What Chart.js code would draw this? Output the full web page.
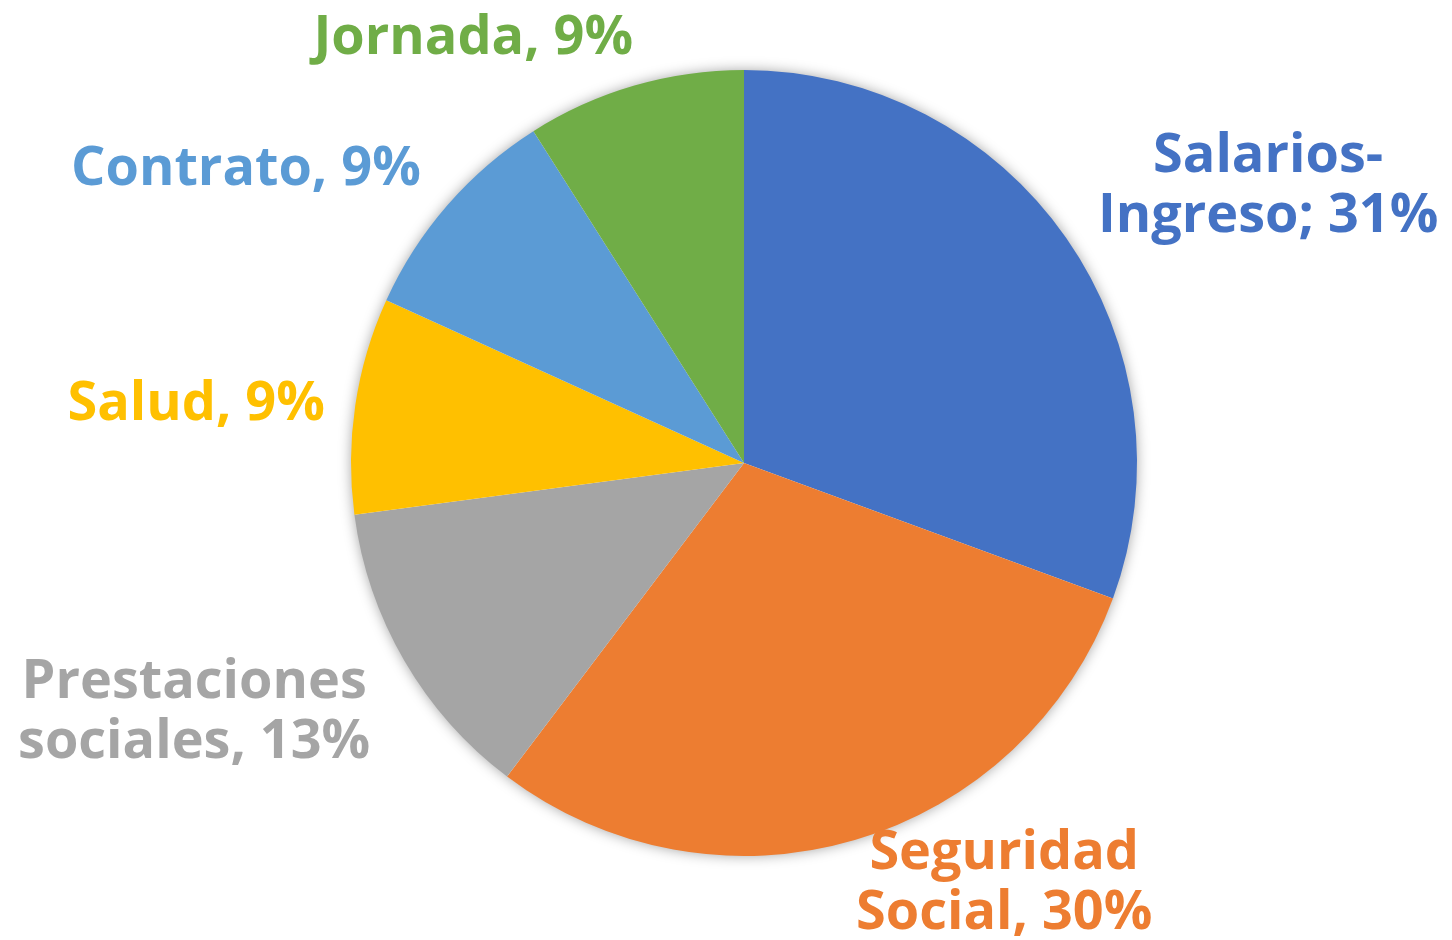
<!DOCTYPE html>
<html lang="es">
<head>
    <meta charset="UTF-8">
    <title>Distribución de temas</title>
    <script src="https://cdn.jsdelivr.net/npm/chart.js@4.4.1/dist/chart.umd.min.js"></script>
    <style>
        html, body { margin: 0; padding: 0; background: #fff; }
        #wrap { width: 1452px; height: 940px; }
    </style>
</head>
<body>
    <div id="wrap"><canvas id="pieChart"></canvas></div>

    <script>
        // Data (slice shares, percent)
        const categories = ['Salarios-Ingreso', 'Seguridad Social', 'Prestaciones sociales', 'Salud', 'Contrato', 'Jornada'];
        const values = [30.6, 29.7, 12.6, 8.9, 9.2, 9.0];
        const separators = ['; ', ', ', ', ', ', ', ', ', ', '];
        const colors = ['#4472C4', '#ED7D31', '#A5A5A5', '#FFC000', '#5B9BD5', '#70AD47'];

        const total = values.reduce((a, b) => a + b, 0);
        const fontSize = 54;
        const labelFont = 'bold ' + fontSize + 'px "Open Sans"';
        const capHeight = fontSize * 0.714;
        const lineGap = 60;

        // label position relative to the slice: distance in radii, turn from mid-angle in degrees
        const labelPlacement = [
            { dist: 1.512, turn: 6.8 },
            { dist: 1.250, turn: -15.6 },
            { dist: 1.532, turn: 6.2 },
            { dist: 1.403, turn: -2.0 },
            { dist: 1.476, turn: -10.2 },
            { dist: 1.289, turn: -16.1 }
        ];

        // greedy wrap at spaces and after hyphens
        function wrapText(ctx, text, maxWidth) {
            const parts = text.match(/[^ -]+-?| /g);
            const lines = [];
            let line = '';
            parts.forEach(p => {
                const test = line + p;
                if (line.trim() && p !== ' ' && ctx.measureText(test).width > maxWidth) {
                    lines.push(line.trim());
                    line = p;
                } else {
                    line = test;
                }
            });
            if (line.trim()) lines.push(line.trim());
            return lines;
        }

        const shadowPlugin = {
            id: 'pieShadow',
            beforeDatasetsDraw(chart) {
                const arc = chart.getDatasetMeta(0).data[0];
                if (!arc) return;
                const ctx = chart.ctx;
                ctx.save();
                ctx.shadowColor = 'rgba(0,0,0,0.4)';
                ctx.shadowBlur = 14;
                ctx.fillStyle = '#fff';
                ctx.beginPath();
                ctx.arc(arc.x, arc.y, arc.outerRadius - 1, 0, Math.PI * 2);
                ctx.fill();
                ctx.restore();
            }
        };

        const labelPlugin = {
            id: 'sliceLabels',
            afterDatasetsDraw(chart) {
                const ctx = chart.ctx;
                const meta = chart.getDatasetMeta(0);
                ctx.save();
                ctx.font = labelFont;
                ctx.textAlign = 'center';
                ctx.textBaseline = 'alphabetic';
                meta.data.forEach((arc, i) => {
                    const pct = Math.round(values[i] / total * 100) + '%';
                    const text = categories[i] + separators[i] + pct;
                    const lines = wrapText(ctx, text, 375);
                    const place = labelPlacement[i];
                    const mid = (arc.startAngle + arc.endAngle) / 2 + place.turn * Math.PI / 180;
                    const cx = arc.x + Math.cos(mid) * arc.outerRadius * place.dist;
                    const cy = arc.y + Math.sin(mid) * arc.outerRadius * place.dist;
                    ctx.fillStyle = colors[i];
                    lines.forEach((ln, j) => {
                        const lineCenter = cy + (j - (lines.length - 1) / 2) * lineGap;
                        ctx.fillText(ln, cx, lineCenter + capHeight / 2);
                    });
                });
                ctx.restore();
            }
        };

        const ctx = document.getElementById('pieChart').getContext('2d');
        new Chart(ctx, {
            type: 'pie',
            data: {
                labels: categories,
                datasets: [{
                    data: values,
                    backgroundColor: colors,
                    borderWidth: 0,
                    hoverOffset: 0
                }]
            },
            options: {
                responsive: true,
                maintainAspectRatio: false,
                animation: false,
                layout: {
                    padding: { left: 300, right: 264, top: 70, bottom: 84 }
                },
                plugins: {
                    legend: { display: false },
                    tooltip: { enabled: false }
                }
            },
            plugins: [shadowPlugin, labelPlugin]
        });
    </script>
</body>
</html>
